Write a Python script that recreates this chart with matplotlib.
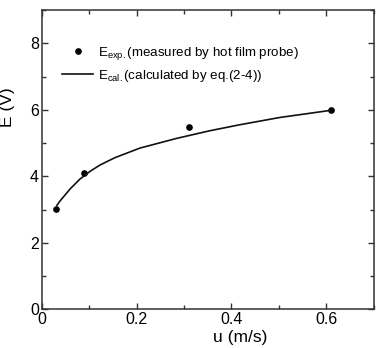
import matplotlib
matplotlib.use("Agg")
import matplotlib.pyplot as plt
from matplotlib.ticker import MultipleLocator

plt.rcParams['font.family'] = ['Liberation Sans', 'DejaVu Sans']
plt.rcParams['mathtext.fontset'] = 'custom'
plt.rcParams['mathtext.rm'] = 'Liberation Sans'
plt.rcParams['mathtext.it'] = 'Liberation Sans:italic'

# measured data
u_exp = [0.031, 0.090, 0.310, 0.610]
E_exp = [3.01, 4.10, 5.47, 6.00]

# calculated curve
u_cal = [0.032, 0.0385, 0.0596, 0.0806, 0.1017, 0.1227, 0.154, 0.207, 0.284, 0.354, 0.417, 0.502, 0.607]
E_cal = [3.13, 3.26, 3.62, 3.92, 4.15, 4.34, 4.56, 4.85, 5.14, 5.37, 5.55, 5.77, 5.98]

xticks = [0, 0.2, 0.4, 0.6]
xticklabels = ['0', '0.2', '0.4', '0.6']
yticks = [0, 2, 4, 6, 8]
yticklabels = ['0', '2', '4', '6', '8']

fig = plt.figure(figsize=(3.8, 3.48), dpi=100)
ax = fig.add_axes([0.11, 0.111, 0.873, 0.860])

ax.plot(u_exp, E_exp, 'o', color='black', markersize=3.8, linestyle='none',
        label=r'E$_{\mathrm{exp.}}$(measured by hot film probe)')
ax.plot(u_cal, E_cal, '-', color='#111111', linewidth=1.2,
        solid_joinstyle='round',
        label=r'E$_{\mathrm{cal.}}$(calculated by eq.(2-4))')

ax.set_xlim(0, 0.7)
ax.set_ylim(0, 9)
ax.set_xticks(xticks)
ax.set_xticklabels(xticklabels)
ax.set_yticks(yticks)
ax.set_yticklabels(yticklabels)
ax.xaxis.set_minor_locator(MultipleLocator(0.1))
ax.yaxis.set_minor_locator(MultipleLocator(1))
ax.tick_params(which='both', direction='in', top=True, right=True,
               labelsize=11.5, color='#333333', width=1.0, pad=2)
ax.tick_params(which='major', length=4.5)
ax.tick_params(which='minor', length=3)
for s in ax.spines.values():
    s.set_linewidth(1.1)
    s.set_color('#333333')

ax.set_xlabel('u (m/s)', fontsize=12.5)
ax.set_ylabel('E (V)', fontsize=12.5)
ax.xaxis.set_label_coords(0.598, -0.069)
ax.yaxis.set_label_coords(-0.08, 0.674)

leg = ax.legend(loc='upper left', bbox_to_anchor=(0.034, 0.915), frameon=False,
                fontsize=9.6, handlelength=2.3, handletextpad=0.4,
                labelspacing=0.45, numpoints=1, borderaxespad=0.3)

fig.savefig('out.png', dpi=100)
